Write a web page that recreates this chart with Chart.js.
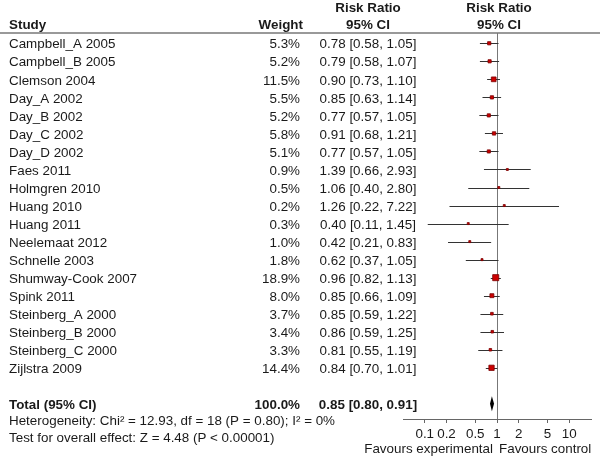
<!DOCTYPE html>
<html>
<head>
<meta charset="utf-8">
<script src="https://cdn.jsdelivr.net/npm/chart.js@4.4.1/dist/chart.umd.min.js"></script>
<style>
  html, body { margin: 0; padding: 0; background: #fff; }
  canvas { display: block; }
</style>
</head>
<body>
<canvas id="forest" width="600" height="457"></canvas>
<script>
// forest plot: risk ratio per study, log scale

const studies = ['Campbell_A 2005', 'Campbell_B 2005', 'Clemson 2004', 'Day_A 2002', 'Day_B 2002',
    'Day_C 2002', 'Day_D 2002', 'Faes 2011', 'Holmgren 2010', 'Huang 2010', 'Huang 2011',
    'Neelemaat 2012', 'Schnelle 2003', 'Shumway-Cook 2007', 'Spink 2011', 'Steinberg_A 2000',
    'Steinberg_B 2000', 'Steinberg_C 2000', 'Zijlstra 2009'];
const weights = [5.3, 5.2, 11.5, 5.5, 5.2, 5.8, 5.1, 0.9, 0.5, 0.2, 0.3, 1.0, 1.8, 18.9, 8.0, 3.7, 3.4, 3.3, 14.4];
const ratios = [0.78, 0.79, 0.90, 0.85, 0.77, 0.91, 0.77, 1.39, 1.06, 1.26, 0.40, 0.42, 0.62, 0.96, 0.85, 0.85, 0.86, 0.81, 0.84];
const lower = [0.58, 0.58, 0.73, 0.63, 0.57, 0.68, 0.57, 0.66, 0.40, 0.22, 0.11, 0.21, 0.37, 0.82, 0.66, 0.59, 0.59, 0.55, 0.70];
const upper = [1.05, 1.07, 1.10, 1.14, 1.05, 1.21, 1.05, 2.93, 2.80, 7.22, 1.45, 0.83, 1.05, 1.13, 1.09, 1.22, 1.25, 1.19, 1.01];
const totalRatio = [0.85, 0.80, 0.91];   // estimate, lower, upper
const totalRow = 20;
const tickValues = [0.1, 0.2, 0.5, 1, 2, 5, 10];

const FONT = 'Liberation Sans, Arial, Helvetica, sans-serif';
const FS = 13.4;
const INK = '#1a1a1a';

const fmt = (v) => v.toFixed(2);
const ciText = (r, lo, hi) => `${fmt(r)} [${fmt(lo)}, ${fmt(hi)}]`;

// box side grows with sqrt of the weight
const boxRadius = weights.map(w => Math.max(2, 1.4 * Math.sqrt(w)) / Math.SQRT2);

const forestPlugin = {
    id: 'forest',
    beforeDatasetsDraw(chart) {
        const ctx = chart.ctx;
        const xs = chart.scales.x, ys = chart.scales.y;
        ctx.save();
        // line of no effect
        const x1 = Math.round(xs.getPixelForValue(1)) + 0.5;
        ctx.strokeStyle = '#777';
        ctx.lineWidth = 1;
        ctx.beginPath();
        ctx.moveTo(x1, 33);
        ctx.lineTo(x1, chart.chartArea.bottom);
        ctx.stroke();
        // confidence intervals
        ctx.strokeStyle = '#333';
        for (let i = 0; i < studies.length; i++) {
            const y = Math.round(ys.getPixelForValue(i)) + 0.5;
            ctx.beginPath();
            ctx.moveTo(xs.getPixelForValue(lower[i]), y);
            ctx.lineTo(xs.getPixelForValue(upper[i]), y);
            ctx.stroke();
        }
        // pooled diamond
        const yt = ys.getPixelForValue(totalRow);
        ctx.fillStyle = '#000';
        ctx.beginPath();
        ctx.moveTo(xs.getPixelForValue(totalRatio[1]), yt);
        ctx.lineTo(xs.getPixelForValue(totalRatio[0]), yt - 7.5);
        ctx.lineTo(xs.getPixelForValue(totalRatio[2]), yt);
        ctx.lineTo(xs.getPixelForValue(totalRatio[0]), yt + 7.5);
        ctx.closePath();
        ctx.fill();
        ctx.restore();
    },
    afterDraw(chart) {
        const ctx = chart.ctx;
        const xs = chart.scales.x, ys = chart.scales.y;
        const xOne = xs.getPixelForValue(1);
        ctx.save();
        ctx.fillStyle = INK;
        ctx.textBaseline = 'middle';

        const text = (s, x, y, align, bold) => {
            ctx.font = (bold ? 'bold ' : '') + FS + 'px ' + FONT;
            ctx.textAlign = align;
            ctx.fillText(s, x, y);
        };

        // header
        text('Study', 9, 25, 'left', true);
        text('Weight', 303, 25, 'right', true);
        text('Risk Ratio', 368, 8, 'center', true);
        text('95% CI', 368, 25, 'center', true);
        text('Risk Ratio', xOne + 2, 8, 'center', true);
        text('95% CI', xOne + 2, 25, 'center', true);

        ctx.strokeStyle = '#777';
        ctx.lineWidth = 1.5;
        ctx.beginPath();
        ctx.moveTo(0, 33);
        ctx.lineTo(600, 33);
        ctx.stroke();

        // study rows
        for (let i = 0; i < studies.length; i++) {
            const y = ys.getPixelForValue(i) + 1.5;
            text(studies[i], 9, y, 'left', false);
            text(weights[i].toFixed(1) + '%', 300, y, 'right', false);
            text(ciText(ratios[i], lower[i], upper[i]), 368, y, 'center', false);
        }

        // total row
        const yt = ys.getPixelForValue(totalRow) + 1;
        text('Total (95% CI)', 9, yt, 'left', true);
        text('100.0%', 300, yt, 'right', true);
        text(ciText(totalRatio[0], totalRatio[1], totalRatio[2]), 368, yt, 'center', true);

        text('Heterogeneity: Chi\u00B2 = 12.93, df = 18 (P = 0.80); I\u00B2 = 0%', 9, 421, 'left', false);
        text('Test for overall effect: Z = 4.48 (P < 0.00001)', 9, 438, 'left', false);

        text('Favours experimental', xOne - 4, 449, 'right', false);
        text('Favours control', xOne + 2, 449, 'left', false);
        ctx.restore();
    }
};

new Chart(document.getElementById('forest'), {
    type: 'scatter',
    data: {
        datasets: [{
            data: ratios.map((r, i) => ({ x: r, y: i })),
            pointStyle: 'rect',
            pointRadius: boxRadius,
            pointHoverRadius: boxRadius,
            backgroundColor: '#cc0000',
            borderColor: '#7a0000',
            borderWidth: 0.8
        }]
    },
    options: {
        responsive: false,
        animation: false,
        devicePixelRatio: 1,
        layout: { padding: { left: 403, right: 9, top: 33, bottom: 0 } },
        plugins: { legend: { display: false }, tooltip: { enabled: false } },
        scales: {
            x: {
                type: 'logarithmic',
                min: 0.05,
                max: 20,
                afterBuildTicks: (scale) => { scale.ticks = tickValues.map(v => ({ value: v })); },
                afterFit: (scale) => { scale.height = 38; },
                grid: { drawOnChartArea: false, drawTicks: true, tickLength: 4, color: '#666' },
                border: { display: true, color: '#666', width: 1 },
                ticks: {
                    autoSkip: false,
                    maxRotation: 0,
                    padding: 3,
                    color: INK,
                    font: { family: FONT, size: FS },
                    callback: (v) => String(v)
                }
            },
            y: {
                display: false,
                reverse: true,
                min: -0.57,
                max: 20.84
            }
        }
    },
    plugins: [forestPlugin]
});
</script>
</body>
</html>
